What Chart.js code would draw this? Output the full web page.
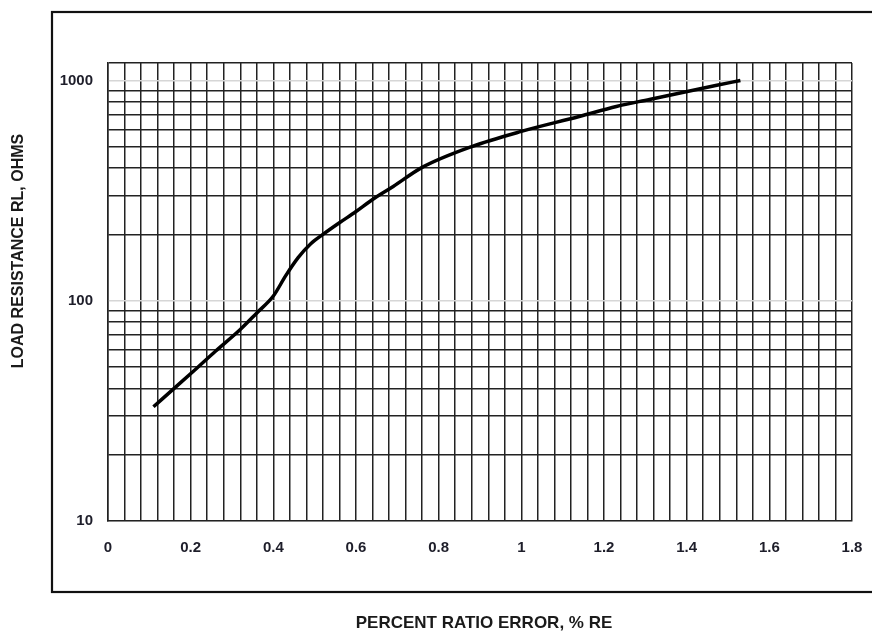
<!DOCTYPE html>
<html>
<head>
<meta charset="utf-8">
<script src="https://cdn.jsdelivr.net/npm/chart.js@4.4.1/dist/chart.umd.min.js"></script>
<style>
  html, body { margin: 0; padding: 0; background: #fff; }
  #wrap { width: 872px; height: 632px; }
</style>
</head>
<body>
<div id="wrap"><canvas id="rlChart" width="872" height="632"></canvas></div>
<script>
// curve
const ratioError = [0.11, 0.16, 0.21, 0.26, 0.32, 0.36, 0.40, 0.43, 0.46, 0.49, 0.52, 0.56, 0.60, 0.64, 0.69, 0.76, 0.88, 1.00, 1.14, 1.23, 1.31, 1.39, 1.47, 1.53];
const loadOhms   = [33, 40, 48.5, 59, 74, 88, 105, 130, 157, 181, 200, 226, 254, 288, 330, 403, 501, 587, 686, 762, 820, 882, 948, 1000];

const xTickLabels = [0, 0.2, 0.4, 0.6, 0.8, 1, 1.2, 1.4, 1.6, 1.8];
const yTickLabels = [10, 100, 1000];
const yGridValues = [10, 20, 30, 40, 50, 60, 70, 80, 90, 100, 200, 300, 400, 500, 600, 700, 800, 900, 1000, 1200];

const X_STEP = 0.04;
const fontFam = '"Liberation Sans", Arial, sans-serif';

// frame around the chart + axis titles
const framePlugin = {
  id: 'frame',
  afterDraw(chart) {
    const ctx = chart.ctx;
    ctx.save();
    ctx.strokeStyle = '#111';
    ctx.lineWidth = 2.2;
    ctx.strokeRect(52, 12, 840, 580);

    ctx.fillStyle = '#1a1a1a';
    ctx.font = 'bold 17px ' + fontFam;
    ctx.textAlign = 'center';
    ctx.textBaseline = 'middle';
    ctx.fillText('PERCENT RATIO ERROR, % RE', 484, 623);

    ctx.font = 'bold 16px ' + fontFam;
    ctx.translate(19, 251);
    ctx.rotate(-Math.PI / 2);
    ctx.fillText('LOAD RESISTANCE RL, OHMS', 0, 0);
    ctx.restore();
  }
};

new Chart(document.getElementById('rlChart'), {
  type: 'line',
  data: {
    datasets: [{
      data: ratioError.map((x, i) => ({ x: x, y: loadOhms[i] })),
      borderColor: '#000',
      borderWidth: 3.5,
      pointRadius: 0,
      cubicInterpolationMode: 'monotone',
      fill: false
    }]
  },
  options: {
    responsive: false,
    animation: false,
    layout: { padding: { left: 0, top: 63, right: 20, bottom: 0 } },
    plugins: { legend: { display: false }, tooltip: { enabled: false } },
    scales: {
      x: {
        type: 'linear',
        min: 0,
        max: 1.8,
        afterBuildTicks(scale) {
          const ticks = [];
          for (let i = 0; i <= Math.round(1.8 / X_STEP); i++) {
            ticks.push({ value: +(i * X_STEP).toFixed(2) });
          }
          scale.ticks = ticks;
        },
        afterFit(scale) {
          scale.height = 111;
          scale.paddingLeft = 0;
          scale.paddingRight = 0;
        },
        grid: { color: '#222', lineWidth: 1.5, drawTicks: false },
        border: { display: true, color: '#222', width: 1.5 },
        ticks: {
          autoSkip: false,
          maxRotation: 0,
          padding: 18,
          color: '#1e1e2a',
          font: { family: fontFam, size: 15, weight: 'bold' },
          callback(v) {
            const hit = xTickLabels.find(t => Math.abs(t - v) < 1e-6);
            return hit === undefined ? '' : String(hit);
          }
        }
      },
      y: {
        type: 'logarithmic',
        min: 10,
        max: 1200,
        afterBuildTicks(scale) {
          scale.ticks = yGridValues.map(v => ({ value: v, major: yTickLabels.includes(v) }));
        },
        afterFit(scale) {
          scale.width = 108;
          scale.paddingTop = 0;
          scale.paddingBottom = 0;
        },
        grid: {
          drawTicks: false,
          lineWidth: 1.5,
          color(ctx) {
            return yTickLabels.includes(ctx.tick.value) ? '#d6d6d6' : '#222';
          }
        },
        border: { display: true, color: '#222', width: 1.5 },
        ticks: {
          autoSkip: false,
          padding: 15,
          color: '#1e1e2a',
          font: { family: fontFam, size: 15, weight: 'bold' },
          callback(v) {
            return yTickLabels.includes(v) ? String(v) : '';
          }
        }
      }
    }
  },
  plugins: [framePlugin]
});
</script>
</body>
</html>
